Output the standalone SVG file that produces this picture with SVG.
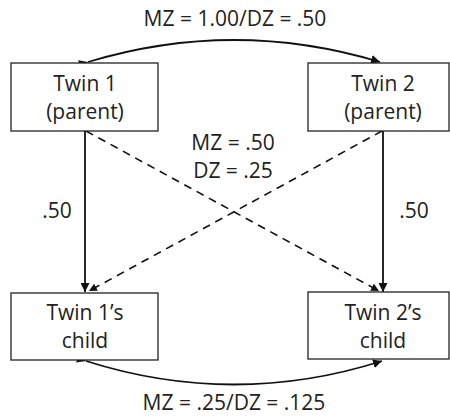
<svg xmlns="http://www.w3.org/2000/svg" width="450" height="417" viewBox="0 0 450 417">
<style>
text{font-family:"Open Sans","Liberation Sans",sans-serif;font-size:21px;fill:#222;text-anchor:middle}
.box{fill:#fff;stroke:#222;stroke-width:1.3}
.ln{fill:none;stroke:#111;stroke-width:1.8}
.dash{fill:none;stroke:#111;stroke-width:1.6;stroke-dasharray:8,6}
</style>
<defs>
<marker id="ah" viewBox="0 0 10 10" refX="10" refY="5" markerWidth="5" markerHeight="5" orient="auto" markerUnits="strokeWidth">
<path d="M0,0 L10,5 L0,10 z" fill="#111"/>
</marker>
</defs>
<g id="connectors">
<path class="ln" d="M88,62 Q234,18 380,62" marker-start="url(#ah)" marker-end="url(#ah)"/>
<path class="ln" d="M86,361 Q234,408 382,361" marker-start="url(#ah)" marker-end="url(#ah)"/>
<line class="ln" x1="85" y1="131" x2="85" y2="292" marker-end="url(#ah)"/>
<line class="ln" x1="383" y1="131" x2="383" y2="292" marker-end="url(#ah)"/>
<line class="dash" x1="86" y1="131" x2="379" y2="291" marker-end="url(#ah)"/>
<line class="dash" x1="382" y1="131" x2="89" y2="291" marker-end="url(#ah)"/>
<text x="235" y="26">MZ = 1.00/DZ = .50</text>
<text x="233" y="150">MZ = .50</text>
<text x="233" y="178">DZ = .25</text>
<text x="57" y="218">.50</text>
<text x="414" y="218">.50</text>
<text x="234" y="410">MZ = .25/DZ = .125</text>
</g>
<g id="twin1">
<rect class="box" x="11" y="63" width="147" height="68"/>
<text x="85" y="91">Twin 1</text>
<text x="85" y="119">(parent)</text>
</g>
<g id="twin2">
<rect class="box" x="308" y="63" width="141" height="68"/>
<text x="383" y="91">Twin 2</text>
<text x="383" y="119">(parent)</text>
</g>
<g id="child1">
<rect class="box" x="11" y="293" width="147" height="67"/>
<text x="85" y="320">Twin 1’s</text>
<text x="85" y="348">child</text>
</g>
<g id="child2">
<rect class="box" x="308" y="292" width="141" height="67"/>
<text x="383" y="320">Twin 2’s</text>
<text x="383" y="348">child</text>
</g>
</svg>
